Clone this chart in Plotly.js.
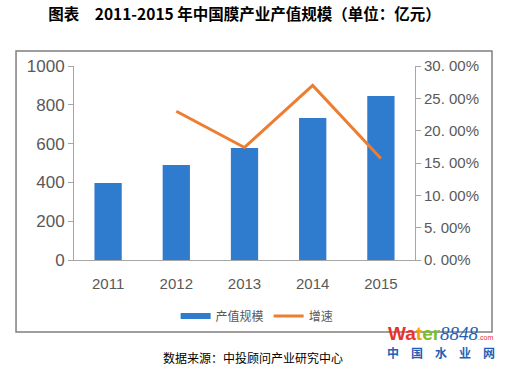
<!DOCTYPE html>
<html>
<head>
<meta charset="utf-8">
<script src="https://cdn.plot.ly/plotly-3.0.1.min.js"></script>
<style>html,body{margin:0;padding:0;background:#fff;}#chart{width:510px;height:371px;}</style>
</head>
<body>
<div id="chart"></div>
<script>
const years = ['2011', '2012', '2013', '2014', '2015'];
const outputValue = [397, 490, 577, 732, 845];
const growthRate = [null, 0.230, 0.174, 0.270, 0.157];
const leftTicks = [0, 200, 400, 600, 800, 1000];
const rightTickVals = [0, 0.05, 0.10, 0.15, 0.20, 0.25, 0.30];
const rightTickText = ['0. 00%', '5. 00%', '10. 00%', '15. 00%', '20. 00%', '25. 00%', '30. 00%'];
const seriesNames = ['产值规模', '增速'];

const blue = '#2f7bce';
const orange = '#ed7d31';
const axisGray = '#a6a6a6';
const txt = '#595959';
const font = 'Liberation Sans, Arial, "Noto Sans CJK SC", sans-serif';

const traces = [
  {type: 'bar', x: years, y: outputValue, name: seriesNames[0], marker: {color: blue}, showlegend: false, yaxis: 'y', hoverinfo: 'skip'},
  {type: 'scatter', mode: 'lines', x: years, y: outputValue.map(() => null), name: seriesNames[0], line: {color: blue, width: 6}, yaxis: 'y', hoverinfo: 'skip'},
  {type: 'scatter', mode: 'lines', x: years, y: growthRate, name: seriesNames[1], line: {color: orange, width: 3}, yaxis: 'y2', connectgaps: false, hoverinfo: 'skip'}
];

const layout = {
  width: 510, height: 371,
  margin: {l: 74, r: 95, t: 66, b: 111},
  paper_bgcolor: '#fff', plot_bgcolor: '#fff',
  font: {family: font, color: txt},
  bargap: 0.6,
  title: {
    text: '<b>图表　2011-2015 年中国膜产业产值规模（单位：亿元）</b>',
    font: {family: '"Noto Sans CJK SC", sans-serif', size: 15.5, color: '#000'},
    x: 0.5, xanchor: 'center', y: 0.962, yanchor: 'middle', xref: 'paper'
  },
  xaxis: {
    type: 'category', showgrid: false, zeroline: false,
    showline: true, linecolor: axisGray, linewidth: 1.3,
    ticks: '', tickfont: {size: 15, color: txt}, ticklabelstandoff: 10, fixedrange: true
  },
  yaxis: {
    range: [0, 1000], tickvals: leftTicks, showgrid: false, zeroline: false,
    showline: true, linecolor: axisGray, linewidth: 1,
    ticks: 'outside', ticklen: 5, tickcolor: axisGray,
    tickfont: {size: 17, color: txt}
  },
  yaxis2: {
    overlaying: 'y', side: 'right', range: [0, 0.30],
    tickvals: rightTickVals, ticktext: rightTickText,
    showgrid: false, zeroline: false,
    showline: true, linecolor: axisGray, linewidth: 1,
    ticks: 'outside', ticklen: 5, tickcolor: axisGray,
    tickfont: {size: 15, color: txt}
  },
  legend: {
    orientation: 'h', x: 0.537, xanchor: 'center', y: -0.289, yanchor: 'middle',
    font: {size: 12, color: txt, family: '"Noto Sans CJK SC", sans-serif'},
    itemwidth: 30, tracegroupgap: 0, itemclick: false
  },
  shapes: [
    {type: 'rect', xref: 'paper', yref: 'paper', x0: -0.170, x1: 1.2258, y0: -0.371, y1: 1.0773,
     line: {color: '#7f7f7f', width: 1.5}, fillcolor: 'rgba(0,0,0,0)'}
  ],
  annotations: [
    {text: '数据来源：中投顾问产业研究中心', xref: 'paper', yref: 'paper', x: 0.525, y: -0.505,
     xanchor: 'center', yanchor: 'middle', showarrow: false,
     font: {size: 12, color: '#000', family: '"Noto Sans CJK SC", sans-serif'}},
    {text: '<b><span style="color:#e8322e">Wa</span><span style="color:#f5a300">t</span><span style="color:#7cbf2a">er</span></b><i><span style="font-family:Liberation Serif;color:#1f5fb8">8848</span></i><span style="font-size:7px;color:#e8322e">.com</span>',
     xref: 'paper', yref: 'paper', x: 1.076, y: -0.381, xanchor: 'center', yanchor: 'middle', showarrow: false,
     font: {size: 19, family: 'Liberation Sans, Arial, sans-serif'}},
    {text: '<b>中　国　水　业　网</b>', xref: 'paper', yref: 'paper', x: 1.076, y: -0.479,
     xanchor: 'center', yanchor: 'middle', showarrow: false,
     font: {size: 12, color: '#1f5fb8', family: '"Noto Sans CJK SC", sans-serif'}}
  ]
};

Plotly.newPlot('chart', traces, layout, {displayModeBar: false, staticPlot: true});
</script>
</body>
</html>
